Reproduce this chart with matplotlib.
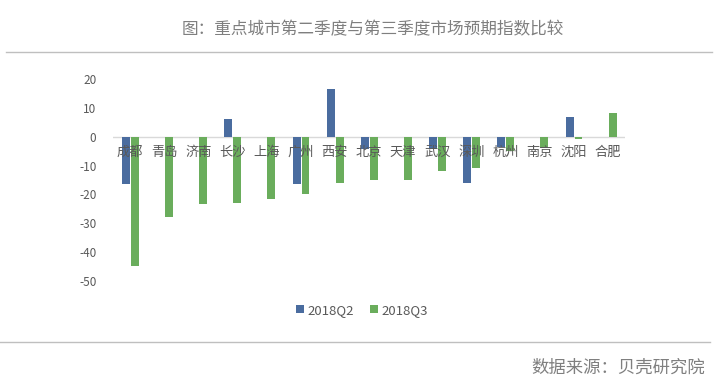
import matplotlib
matplotlib.use('Agg')
import matplotlib.pyplot as plt
import numpy as np

plt.rcParams['font.family'] = ['Noto Sans CJK SC', 'DejaVu Sans']

cities = ['成都', '青岛', '济南', '长沙', '上海', '广州', '西安', '北京',
          '天津', '武汉', '深圳', '杭州', '南京', '沈阳', '合肥']
q2 = [-16.5, 0, 0, 6.1, 0, -16.5, 16.6, -4.1, 0, -4.1, -15.9, -3.4, 0, 6.9, 0]
q3 = [-44.8, -27.8, -23.2, -23.0, -21.5, -19.9, -16.0, -14.9, -14.9,
      -11.9, -10.8, -5.0, -4.0, -0.7, 8.2]
series = ['2018Q2', '2018Q3']
yticks = [20, 10, 0, -10, -20, -30, -40, -50]

blue = '#4a6c9f'
green = '#6aad5c'
grey_txt = '#595959'

fig = plt.figure(figsize=(7.17, 3.88), dpi=100)
ax = fig.add_axes([0.1576, 0.2758, 0.714, 0.5206])

x = np.arange(len(cities))
w = 0.23
ax.bar(x - 0.12, q2, width=w, color=blue, label=series[0], zorder=2)
ax.bar(x + 0.14, q3, width=w, color=green, label=series[1], zorder=2)

ax.set_xlim(-0.5, len(cities) - 0.5)
ax.set_ylim(-50, 20)
ax.set_yticks(yticks)
ax.set_yticklabels([str(v) for v in yticks])
ax.tick_params(axis='y', length=0, labelsize=8.5, labelcolor=grey_txt, pad=12)
ax.set_xticks([])
for s in ax.spines.values():
    s.set_visible(False)
ax.axhline(0, color='#d9d9d9', lw=1, zorder=1)

for i, c in enumerate(cities):
    ax.text(i, -3.2, c, ha='center', va='top', fontsize=9.5,
            color=grey_txt, zorder=3)

leg = fig.legend(loc='center', bbox_to_anchor=(0.505, 0.20), ncol=2,
                 frameon=False, fontsize=9.5, handlelength=0.6, handleheight=0.6,
                 handletextpad=0.3, columnspacing=1.2)
for t in leg.get_texts():
    t.set_color(grey_txt)

fig.text(0.52, 0.923, '图：重点城市第二季度与第三季度市场预期指数比较',
         ha='center', va='center', fontsize=12, color='#7f7f7f')
fig.add_artist(plt.Line2D([0.008, 0.993], [0.866, 0.866],
                          color='#bfbfbf', lw=1, transform=fig.transFigure))
fig.add_artist(plt.Line2D([0.0, 0.99], [0.119, 0.119],
                          color='#bfbfbf', lw=1, transform=fig.transFigure))
fig.text(0.983, 0.052, '数据来源：贝壳研究院', ha='right', va='center',
         fontsize=12.5, color='#7f7f7f')

fig.savefig('out.png', dpi=100)
